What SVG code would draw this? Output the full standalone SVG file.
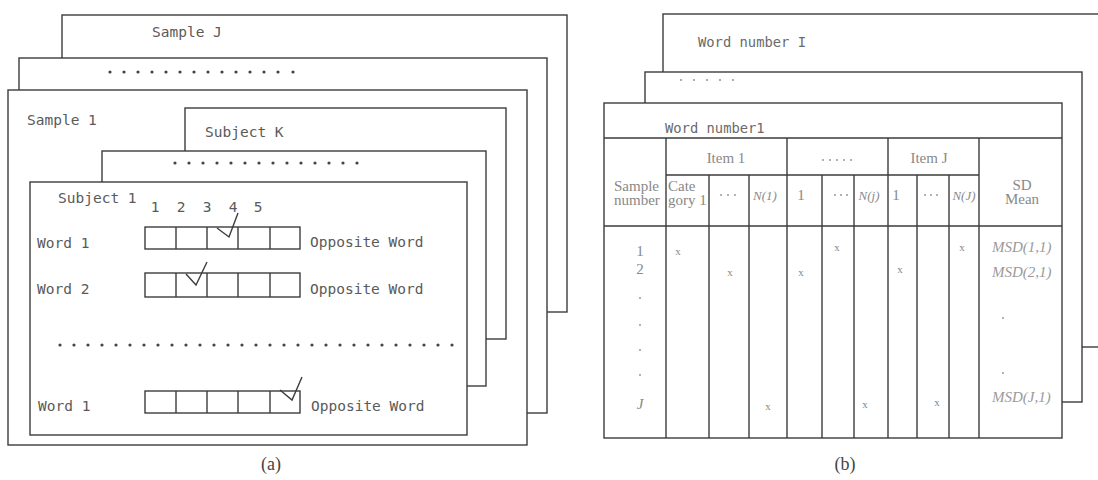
<svg xmlns="http://www.w3.org/2000/svg" width="1098" height="480" viewBox="0 0 1098 480">
<style>
.pg{fill:#fff;stroke:#3c3c3c;stroke-width:1.4}
.ln{stroke:#3c3c3c;stroke-width:1.4;fill:none}
.mono{font-family:"DejaVu Sans Mono",monospace;font-size:14.5px;fill:#5a5a5a}
.mono2{font-family:"DejaVu Sans Mono",monospace;font-size:13.8px;fill:#6a6a6a}
.ser{font-family:"Liberation Serif",serif;font-size:15px;fill:#888}
.it{font-family:"Liberation Serif",serif;font-style:italic;font-size:13px;fill:#8a8a8a}
.msd{font-family:"Liberation Serif",serif;font-style:italic;font-size:15px;fill:#9a9a9a}
.xm{font-family:"Liberation Serif",serif;font-size:11px;fill:#888}
.dot{fill:#444}
.dotl{fill:#999}
.chk{stroke:#3c3c3c;stroke-width:1.4;fill:none}
.cap{font-family:"Liberation Serif",serif;font-size:18px;fill:#444}
</style>

<!-- ===== Panel (a) ===== -->
<g id="sample-J">
  <rect class="pg" x="62" y="15" width="505" height="297"/>
  <text class="mono" x="152" y="37">Sample J</text>
</g>
<g id="sample-dots">
  <rect class="pg" x="19" y="58" width="528" height="355"/>
  <g class="dot">
    <circle cx="110" cy="72" r="1.6"/><circle cx="124" cy="72" r="1.6"/><circle cx="138" cy="72" r="1.6"/><circle cx="152" cy="72" r="1.6"/><circle cx="166" cy="72" r="1.6"/><circle cx="180" cy="72" r="1.6"/><circle cx="194" cy="72" r="1.6"/><circle cx="208" cy="72" r="1.6"/><circle cx="222" cy="72" r="1.6"/><circle cx="236" cy="72" r="1.6"/><circle cx="250" cy="72" r="1.6"/><circle cx="264" cy="72" r="1.6"/><circle cx="278" cy="72" r="1.6"/><circle cx="293" cy="72" r="1.6"/>
  </g>
</g>
<g id="sample-1">
  <rect class="pg" x="8" y="90" width="519" height="355"/>
  <text class="mono" x="27" y="125">Sample 1</text>
</g>
<g id="subject-K">
  <rect class="pg" x="185" y="108" width="321" height="231"/>
  <text class="mono" x="205" y="137">Subject K</text>
</g>
<g id="subject-dots">
  <rect class="pg" x="102" y="151" width="384" height="235"/>
  <g class="dot">
    <circle cx="175" cy="163" r="1.6"/><circle cx="189" cy="163" r="1.6"/><circle cx="203" cy="163" r="1.6"/><circle cx="217" cy="163" r="1.6"/><circle cx="231" cy="163" r="1.6"/><circle cx="245" cy="163" r="1.6"/><circle cx="259" cy="163" r="1.6"/><circle cx="273" cy="163" r="1.6"/><circle cx="287" cy="163" r="1.6"/><circle cx="301" cy="163" r="1.6"/><circle cx="315" cy="163" r="1.6"/><circle cx="329" cy="163" r="1.6"/><circle cx="343" cy="163" r="1.6"/><circle cx="357" cy="163" r="1.6"/>
  </g>
</g>
<g id="subject-1">
  <rect class="pg" x="30" y="182" width="437" height="253"/>
  <text class="mono" x="58" y="203">Subject 1</text>
  <g class="mono" text-anchor="middle">
    <text x="155" y="212">1</text><text x="181" y="212">2</text><text x="207" y="212">3</text><text x="233" y="212">4</text><text x="258" y="212">5</text>
  </g>
  <!-- row 1 -->
  <text class="mono" x="37" y="248">Word 1</text>
  <rect class="ln" x="145" y="227" width="155" height="22"/>
  <path class="ln" d="M176 227V249M207 227V249M238 227V249M270 227V249"/>
  <path class="chk" d="M217 228L229 237L238 213"/>
  <text class="mono" x="310" y="247">Opposite Word</text>
  <!-- row 2 -->
  <text class="mono" x="37" y="294">Word 2</text>
  <rect class="ln" x="145" y="273" width="155" height="24"/>
  <path class="ln" d="M176 273V297M207 273V297M238 273V297M270 273V297"/>
  <path class="chk" d="M186 274L196 285L207 262"/>
  <text class="mono" x="310" y="294">Opposite Word</text>
  <!-- dots -->
  <g class="dot">
    <circle cx="60" cy="345" r="1.6"/><circle cx="74" cy="345" r="1.6"/><circle cx="88" cy="345" r="1.6"/><circle cx="102" cy="345" r="1.6"/><circle cx="116" cy="345" r="1.6"/><circle cx="130" cy="345" r="1.6"/><circle cx="144" cy="345" r="1.6"/><circle cx="158" cy="345" r="1.6"/><circle cx="172" cy="345" r="1.6"/><circle cx="186" cy="345" r="1.6"/><circle cx="200" cy="345" r="1.6"/><circle cx="214" cy="345" r="1.6"/><circle cx="228" cy="345" r="1.6"/><circle cx="242" cy="345" r="1.6"/><circle cx="256" cy="345" r="1.6"/><circle cx="270" cy="345" r="1.6"/><circle cx="284" cy="345" r="1.6"/><circle cx="298" cy="345" r="1.6"/><circle cx="312" cy="345" r="1.6"/><circle cx="326" cy="345" r="1.6"/><circle cx="340" cy="345" r="1.6"/><circle cx="354" cy="345" r="1.6"/><circle cx="368" cy="345" r="1.6"/><circle cx="382" cy="345" r="1.6"/><circle cx="396" cy="345" r="1.6"/><circle cx="410" cy="345" r="1.6"/><circle cx="424" cy="345" r="1.6"/><circle cx="438" cy="345" r="1.6"/><circle cx="452" cy="345" r="1.6"/>
  </g>
  <!-- row 3 -->
  <text class="mono" x="38" y="411">Word 1</text>
  <rect class="ln" x="145" y="391" width="155" height="22"/>
  <path class="ln" d="M176 391V413M207 391V413M238 391V413M270 391V413"/>
  <path class="chk" d="M280 390L292 400L302 377"/>
  <text class="mono" x="311" y="411">Opposite Word</text>
</g>
<text class="cap" x="271" y="470" text-anchor="middle">(a)</text>

<!-- ===== Panel (b) ===== -->
<g id="word-number-I">
  <rect class="pg" x="663" y="14" width="460" height="333"/>
  <text class="mono2" x="698" y="47">Word number I</text>
</g>
<g id="word-number-dots">
  <rect class="pg" x="645" y="72" width="437" height="330"/>
  <g class="dotl">
    <circle cx="681" cy="80" r="1.1"/><circle cx="694" cy="80" r="1.1"/><circle cx="707" cy="80" r="1.1"/><circle cx="720" cy="80" r="1.1"/><circle cx="733" cy="80" r="1.1"/>
  </g>
</g>
<g id="word-number-1">
  <rect class="pg" x="604" y="103" width="458" height="335"/>
  <text class="mono2" x="665" y="133">Word number1</text>
  <!-- table lines -->
  <path class="ln" d="M604 138H1062M666 175H979M604 226H1062"/>
  <path class="ln" d="M666 138V438M787 138V438M888 138V438M979 138V438"/>
  <path class="ln" d="M709 175V438M749 175V438M822 175V438M854 175V438M917 175V438M949 175V438"/>
  <!-- header -->
  <text class="ser" x="726" y="163" text-anchor="middle">Item 1</text>
  <g class="dotl">
    <circle cx="823" cy="160" r="1"/><circle cx="830" cy="160" r="1"/><circle cx="837" cy="160" r="1"/><circle cx="844" cy="160" r="1"/><circle cx="851" cy="160" r="1"/>
  </g>
  <text class="ser" x="929" y="163" text-anchor="middle">Item J</text>
  <text class="ser" x="614" y="191">Sample</text>
  <text class="ser" x="614" y="205">number</text>
  <text class="ser" x="668" y="191">Cate</text>
  <text class="ser" x="668" y="205">gory 1</text>
  <g class="dotl">
    <circle cx="721" cy="195" r="1"/><circle cx="728" cy="195" r="1"/><circle cx="735" cy="195" r="1"/>
    <circle cx="835" cy="195" r="1"/><circle cx="841" cy="195" r="1"/><circle cx="847" cy="195" r="1"/>
    <circle cx="925" cy="195" r="1"/><circle cx="931" cy="195" r="1"/><circle cx="937" cy="195" r="1"/>
  </g>
  <text class="it" x="765" y="200" text-anchor="middle">N(1)</text>
  <text class="ser" x="801" y="200" text-anchor="middle">1</text>
  <text class="it" x="869" y="200" text-anchor="middle">N(j)</text>
  <text class="ser" x="896" y="200" text-anchor="middle">1</text>
  <text class="it" x="964" y="200" text-anchor="middle">N(J)</text>
  <text class="ser" x="1022" y="190" text-anchor="middle">SD</text>
  <text class="ser" x="1022" y="204" text-anchor="middle">Mean</text>
  <!-- data -->
  <text class="ser" x="640" y="256" text-anchor="middle">1</text>
  <text class="ser" x="640" y="274" text-anchor="middle">2</text>
  <g class="dotl">
    <circle cx="640" cy="298" r="1"/><circle cx="640" cy="325" r="1"/><circle cx="640" cy="350" r="1"/><circle cx="640" cy="375" r="1"/>
    <circle cx="1003" cy="318" r="1"/><circle cx="1003" cy="373" r="1"/>
  </g>
  <text class="ser" x="640" y="409" text-anchor="middle" font-style="italic">J</text>
  <g class="xm" text-anchor="middle">
    <text x="678" y="255">x</text><text x="837" y="251">x</text><text x="962" y="251">x</text>
    <text x="730" y="276">x</text><text x="801" y="276">x</text><text x="900" y="273">x</text>
    <text x="768" y="410">x</text><text x="865" y="408">x</text><text x="937" y="406">x</text>
  </g>
  <text class="msd" x="992" y="252">MSD(1,1)</text>
  <text class="msd" x="992" y="277">MSD(2,1)</text>
  <text class="msd" x="992" y="402">MSD(J,1)</text>
</g>
<text class="cap" x="845" y="470" text-anchor="middle">(b)</text>
</svg>
